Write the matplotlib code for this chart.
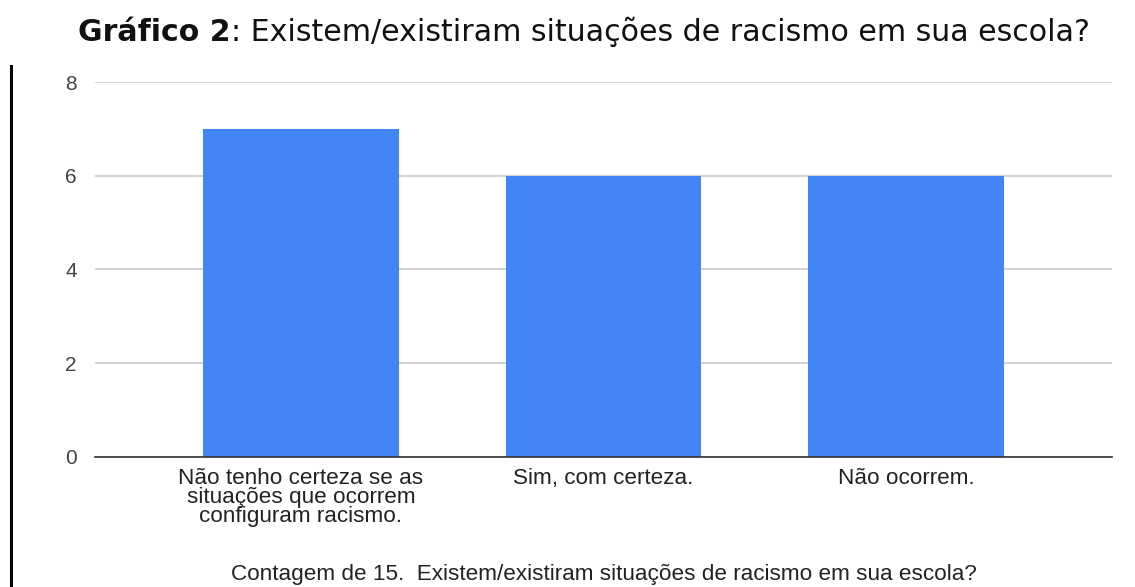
import matplotlib.pyplot as plt
from matplotlib.lines import Line2D

# Respostas à pergunta 15
categorias = ["Não tenho certeza se as\nsituações que ocorrem\nconfiguram racismo.",
              "Sim, com certeza.",
              "Não ocorrem."]
contagens = [7, 6, 6]
yticks = [0, 2, 4, 6, 8]

plt.rcParams['font.family'] = ['Liberation Sans', 'DejaVu Sans']

fig = plt.figure(figsize=(11.35, 5.87), dpi=100)
ax = fig.add_axes([0.0837, 0.2215, 0.896, 0.6388])

x = range(len(categorias))
ax.bar(x, contagens, width=0.647, color='#4285F4', zorder=3)

ax.set_xlim(-0.68, 2.68)
ax.set_ylim(0, 8)
ax.set_yticks(yticks)
ax.set_xticks(list(x))
ax.set_xticklabels(categorias, fontsize=16.2, color='#222222', linespacing=0.86)
ax.tick_params(axis='y', labelsize=15, labelcolor='#444444', length=0, pad=13)
ax.tick_params(axis='x', length=0, pad=8)

ax.grid(axis='y', color='#cccccc', linewidth=1.2, zorder=0)
for s in ['top', 'right', 'left']:
    ax.spines[s].set_visible(False)
ax.spines['bottom'].set_color('#333333')
ax.spines['bottom'].set_linewidth(1.2)
ax.spines['bottom'].set_zorder(4)

ax.set_xlabel("Contagem de 15.  Existem/existiram situações de racismo em sua escola?",
              fontsize=16.2, color='#222222', labelpad=27)

# Título: parte em negrito seguida do texto normal
t1 = fig.text(0.069, 0.93, "Gráfico 2", fontsize=21.6, fontweight='bold',
              family='DejaVu Sans', va='baseline', color='#111111')
ax.annotate(": Existem/existiram situações de racismo em sua escola?",
            xy=(1, 0), xycoords=t1, va='bottom', ha='left',
            fontsize=21.6, family='DejaVu Sans', color='#111111',
            annotation_clip=False)

# Linha vertical à esquerda
fig.add_artist(Line2D([0.0097, 0.0097], [0, 0.888], color='black', linewidth=2.2,
                      transform=fig.transFigure))

fig.savefig('out.png', dpi=100)
